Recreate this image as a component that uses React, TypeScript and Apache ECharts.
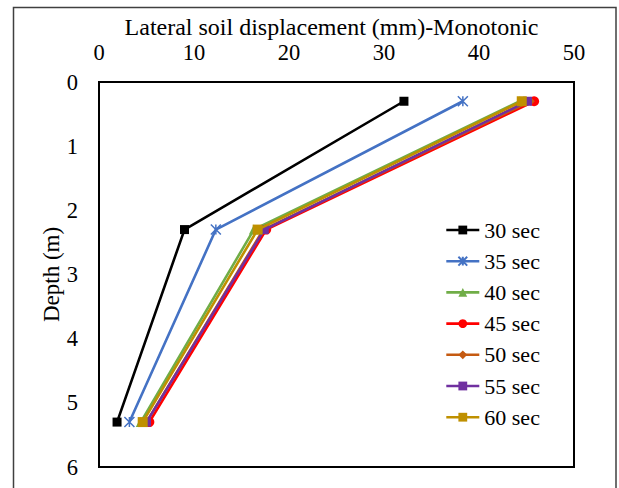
import React, { useEffect, useRef } from "react";
import * as echarts from "echarts";

const depths = [0.3, 2.3, 5.3];
const seriesNames = ["30 sec", "35 sec", "40 sec", "45 sec", "50 sec", "55 sec", "60 sec"];
const s30 = [32.1, 9.0, 1.9];
const s35 = [38.3, 12.3, 3.2];
const s40 = [44.3, 16.3, 4.4];
const s45 = [45.8, 17.6, 5.3];
const s50 = [45.4, 17.3, 5.0];
const s55 = [45.1, 17.4, 5.0];
const s60 = [44.5, 16.7, 4.6];
const allValues = [s30, s35, s40, s45, s50, s55, s60];
const colors = ["#000000", "#4472C4", "#70AD47", "#FF0000", "#C55A11", "#7030A0", "#BF9000"];
const symbols = [
  "rect",
  "path://M0,0L10,10M10,0L0,10M5,0L5,10",
  "triangle",
  "circle",
  "diamond",
  "rect",
  "rect",
];
const symbolSizes = [9, 10, 10, 10, 9, 9, 10];

const FONT = "Liberation Serif";

export default function App() {
  const ref = useRef<HTMLDivElement>(null);
  useEffect(() => {
    const chart = echarts.init(ref.current!, null, { renderer: "svg" });
    const series = seriesNames.map((name, i) => {
      const isStar = i === 1;
      return {
        name,
        type: "line",
        data: allValues[i].map((v, j) => [v, depths[j]]),
        symbol: symbols[i],
        symbolSize: symbolSizes[i],
        showSymbol: true,
        lineStyle: { color: colors[i], width: 2.6 },
        itemStyle: isStar
          ? { color: "rgba(0,0,0,0)", borderColor: colors[i], borderWidth: 1.5 }
          : { color: colors[i], borderColor: colors[i], borderWidth: 0 },
        z: 2 + i,
      };
    });
    chart.setOption({
      animation: false,
      backgroundColor: "#ffffff",
      textStyle: { fontFamily: FONT },
      graphic: [
        {
          type: "rect",
          shape: { x: 13.5, y: 7.5, width: 602.5, height: 500 },
          style: { fill: "none", stroke: "#404040", lineWidth: 1.5 },
          silent: true,
        },
      ],
      grid: {
        left: 99,
        top: 82,
        right: 45,
        bottom: 21,
        show: true,
        borderColor: "#000",
        borderWidth: 2,
        containLabel: false,
      },
      legend: {
        orient: "vertical",
        left: 440,
        top: 214,
        itemWidth: 33,
        itemHeight: 11,
        itemGap: 9.2,
        lineStyle: { width: 2.6 },
        data: seriesNames.map((n, i) => ({
          name: n,
          itemStyle: { color: colors[i] },
        })),
        textStyle: { fontFamily: FONT, fontSize: 22, color: "#000" },
      },
      xAxis: {
        type: "value",
        position: "top",
        min: 0,
        max: 50,
        interval: 10,
        name: "Lateral soil displacement (mm)-Monotonic",
        nameLocation: "middle",
        nameGap: 44,
        nameMoveOverlap: false,
        nameTextStyle: {
          fontFamily: FONT,
          fontSize: 24,
          lineHeight: 22,
          color: "#000",
          padding: [0, 10, 0, 0],
        },
        axisLine: { show: true, lineStyle: { color: "#000", width: 2 } },
        axisTick: { show: false },
        splitLine: { show: false },
        axisLabel: {
          fontFamily: FONT,
          fontSize: 22.5,
          lineHeight: 18,
          color: "#000",
          margin: 21,
        },
      },
      yAxis: {
        type: "value",
        inverse: true,
        min: 0,
        max: 6,
        interval: 1,
        name: "Depth (m)",
        nameLocation: "middle",
        nameGap: 36,
        nameMoveOverlap: false,
        nameRotate: 90,
        nameTextStyle: { fontFamily: FONT, fontSize: 23, color: "#000" },
        axisLine: { show: true, lineStyle: { color: "#000", width: 2 } },
        axisTick: { show: false },
        splitLine: { show: false },
        axisLabel: { fontFamily: FONT, fontSize: 22.5, color: "#000", margin: 21 },
      },
      series,
    });
    return () => chart.dispose();
  }, []);
  return (
    <div
      ref={ref}
      style={{ position: "fixed", left: 0, top: 0, width: 619, height: 488 }}
    />
  );
}
